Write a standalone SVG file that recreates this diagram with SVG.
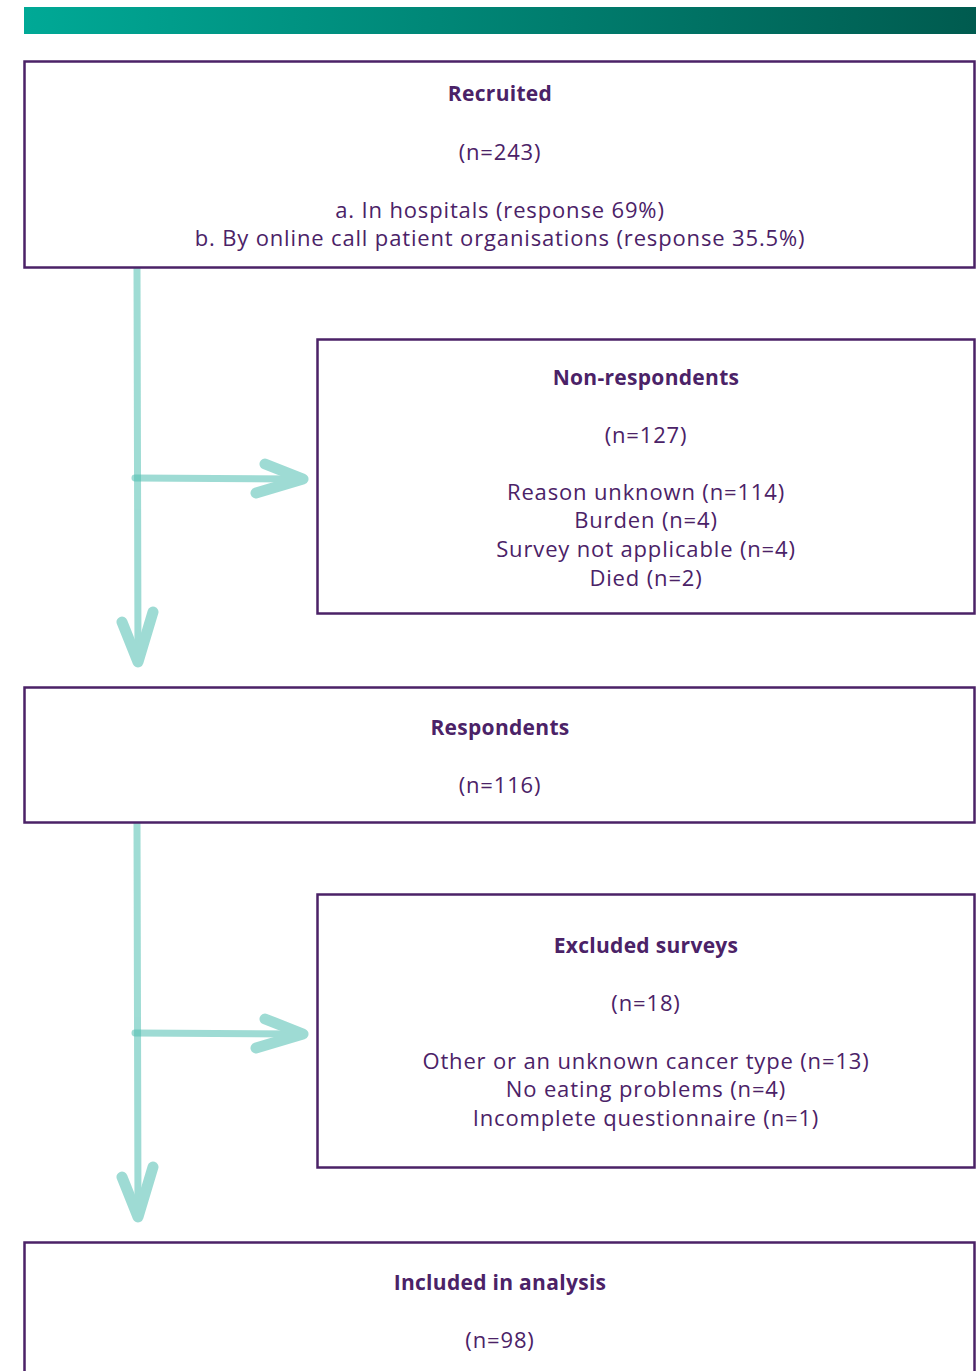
<svg xmlns="http://www.w3.org/2000/svg" width="976" height="1371" viewBox="0 0 976 1371">
<defs>
<linearGradient id="band" x1="0" y1="0" x2="1" y2="0">
<stop offset="0" stop-color="#00A996"/>
<stop offset="1" stop-color="#005B4F"/>
</linearGradient>
<style>
.box{fill:#fff;stroke:#4B2267;stroke-width:2.5}
.t{font-family:"Open Sans","Noto Sans",sans-serif;font-size:22px;letter-spacing:0.85px;fill:#4B2267;text-anchor:middle}
.b{font-size:21px;font-weight:bold;letter-spacing:0.3px}
.ag{opacity:0.55}
.ag path{fill:none;stroke:#50BFB1;stroke-linecap:round;stroke-linejoin:round}
</style>
</defs>
<rect width="976" height="1371" fill="#fff"/>
<rect x="24" y="7" width="952" height="27" fill="url(#band)"/>
<g id="connectors">
<g class="ag"><path stroke-width="7" d="M137 268 L138 658"/><path stroke-width="11" d="M122 622 L138 662 L153 612"/></g>
<g class="ag"><path stroke-width="7" d="M135 478 L298 479"/><path stroke-width="11" d="M265 464 L303 479 L256 493"/></g>
<g class="ag"><path stroke-width="7" d="M137 823 L138 1213"/><path stroke-width="11" d="M122 1177 L138 1217 L153 1167"/></g>
<g class="ag"><path stroke-width="7" d="M135 1033 L298 1034"/><path stroke-width="11" d="M265 1019 L303 1034 L256 1048"/></g>
</g>
<g id="recruited">
<rect class="box" x="24.5" y="61.5" width="950" height="206"/>
<text class="t b" x="500" y="101">Recruited</text>
<text class="t" x="500" y="160">(n=243)</text>
<text class="t" x="500" y="218">a. In hospitals (response 69%)</text>
<text class="t" x="500" y="246">b. By online call patient organisations (response 35.5%)</text>
</g>
<g id="nonrespondents">
<rect class="box" x="317.5" y="339.5" width="657" height="274"/>
<text class="t b" x="646" y="385">Non-respondents</text>
<text class="t" x="646" y="443">(n=127)</text>
<text class="t" x="646" y="500">Reason unknown (n=114)</text>
<text class="t" x="646" y="528">Burden (n=4)</text>
<text class="t" x="646" y="557">Survey not applicable (n=4)</text>
<text class="t" x="646" y="586">Died (n=2)</text>
</g>
<g id="respondents">
<rect class="box" x="24.5" y="687.5" width="950" height="135"/>
<text class="t b" x="500" y="735">Respondents</text>
<text class="t" x="500" y="793">(n=116)</text>
</g>
<g id="excluded">
<rect class="box" x="317.5" y="894.5" width="657" height="273"/>
<text class="t b" x="646" y="953">Excluded surveys</text>
<text class="t" x="646" y="1011">(n=18)</text>
<text class="t" x="646" y="1069">Other or an unknown cancer type (n=13)</text>
<text class="t" x="646" y="1097">No eating problems (n=4)</text>
<text class="t" x="646" y="1126">Incomplete questionnaire (n=1)</text>
</g>
<g id="included">
<rect class="box" x="24.5" y="1242.5" width="950" height="140"/>
<text class="t b" x="500" y="1290">Included in analysis</text>
<text class="t" x="500" y="1348">(n=98)</text>
</g>
</svg>
